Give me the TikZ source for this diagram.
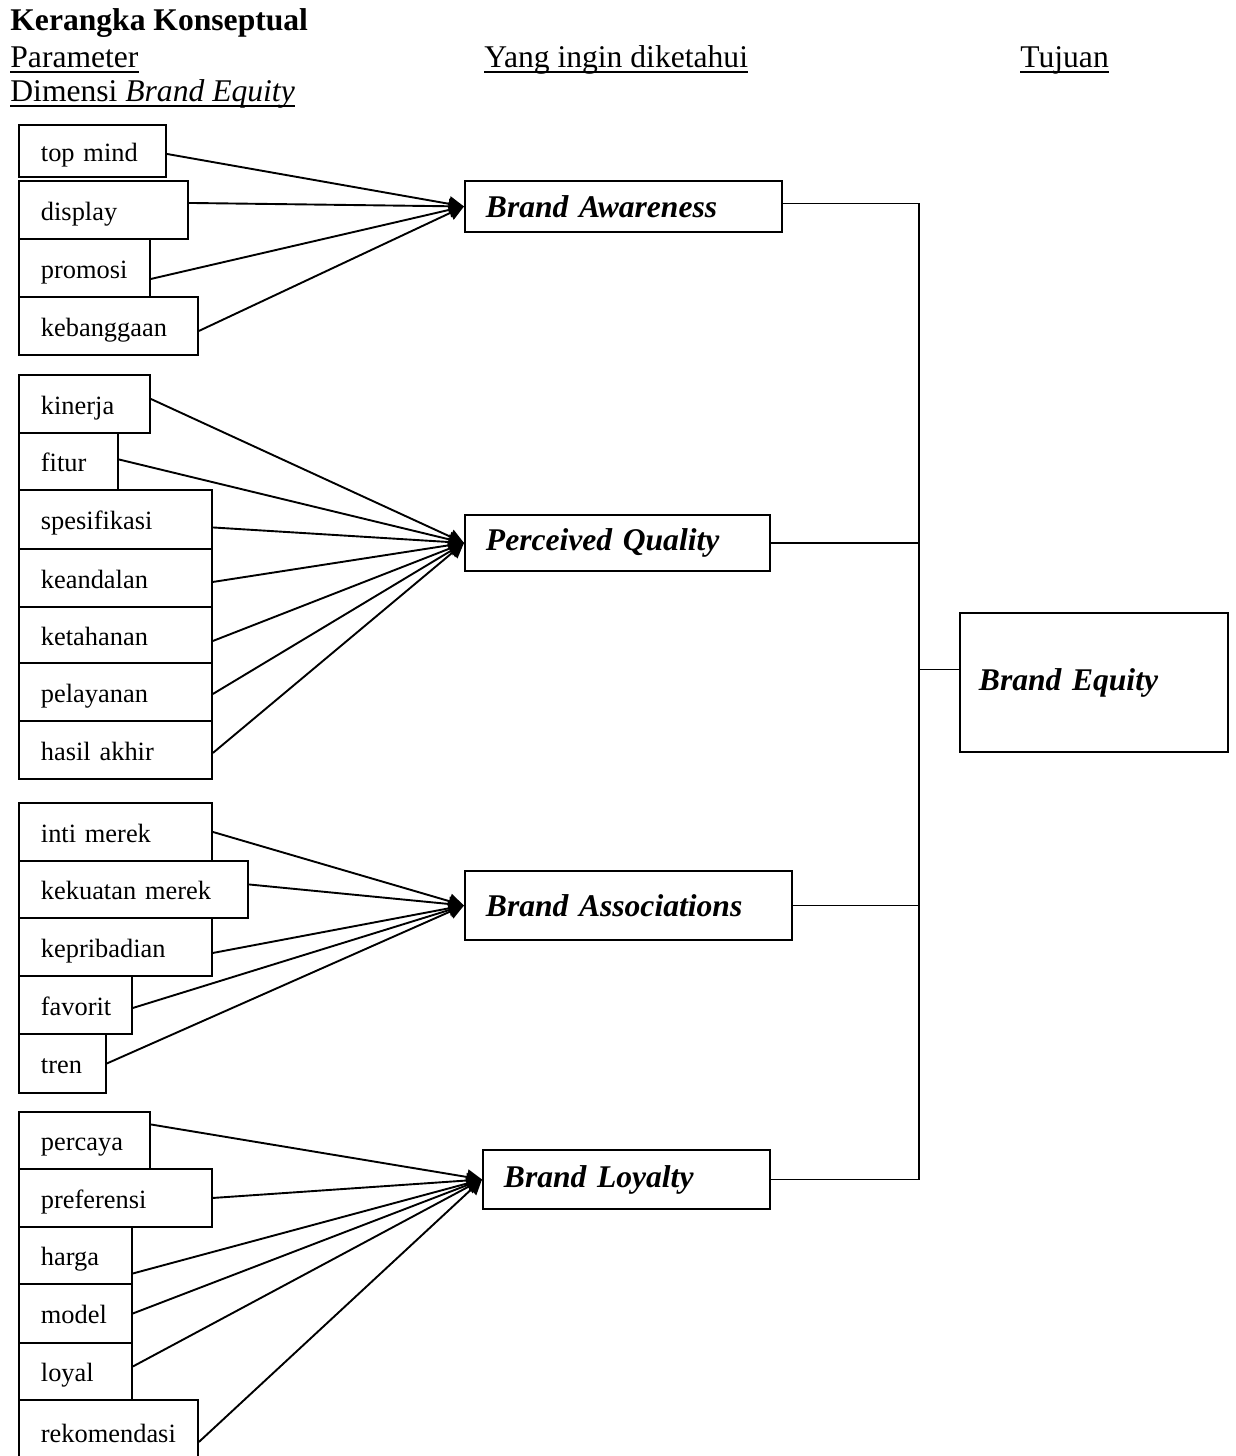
\documentclass[tikz,border=0pt]{standalone}
\usepackage{fontspec}
\setmainfont{Liberation Serif}
\usetikzlibrary{arrows.meta,calc}
% one indicator box in the left column: name, top, text width, height, label
\newcommand\leafbox[5]{\node[leaf, text width=#3pt, minimum height=#4pt] (#1) at (18,#2) {\mbox{#5}};}
\begin{document}
\begin{tikzpicture}[x=0.5pt,y=-0.5pt,
  leaf/.style={draw, line width=0.95pt, anchor=north west, inner xsep=11pt, inner ysep=0pt,
    text height=10.5pt, text depth=0pt,
    align=left, font=\fontsize{13.2}{15}\selectfont},
  dim/.style={draw, line width=0.95pt, anchor=north west, inner xsep=10.5pt, inner ysep=0pt,
    align=left, font=\fontsize{15.8}{19}\selectfont\bfseries\itshape},
  head/.style={inner sep=0pt, anchor=base west, font=\fontsize{15.8}{19}\selectfont},
  ul/.style={line width=0.95pt},
  feed/.style={line width=0.95pt, -{Triangle[length=7.5pt,width=7.5pt]}},
  tie/.style={line width=0.95pt}]
\useasboundingbox (0,0) rectangle (1236,1456);
\clip (0,0) rectangle (1236,1456);

% headings
\node[head, font=\fontsize{15.8}{19}\selectfont\bfseries] (title) at (10,30) {Kerangka Konseptual};
\node[head] (hpar) at (10,67) {Parameter};
\node[head] (hdim) at (10,101) {Dimensi \textit{Brand Equity}};
\node[head] (hyang) at (484,67) {Yang ingin diketahui\ };
\node[head] (htuj) at (1020,67) {Tujuan};
\foreach \h in {hpar,hdim,hyang,htuj}
  \draw[ul] ($(\h.base west)+(0,5)$) -- ($(\h.base east)+(0,5)$);

% brand equity dimensions
\node[dim, text width=137.5pt, minimum height=25.5pt] (aw) at (464,180) {Brand Awareness};
\node[dim, text width=131.5pt, minimum height=28pt] (pq) at (464,514) {Perceived Quality};
\node[dim, text width=142.5pt, minimum height=34.5pt] (ba) at (464,870) {Brand Associations};
\node[dim, text width=122.5pt, minimum height=29.5pt] (bl) at (482,1149) {Brand Loyalty};
\node[dim, inner xsep=9.5pt, text width=115pt, minimum height=69.5pt] (be) at (959,612) {Brand Equity};

% indicators: awareness
\leafbox{tm}{124}{51.5}{26}{top mind}
\leafbox{dp}{180}{62.5}{29}{display}
\leafbox{pr}{238}{43.5}{29}{promosi}
\leafbox{kb}{296}{67.5}{29}{kebanggaan}
% indicators: perceived quality
\leafbox{kn}{374}{43.5}{29}{kinerja}
\leafbox{ft}{432}{27.5}{28.5}{fitur}
\leafbox{sp}{489}{74.5}{29.5}{spesifikasi}
\leafbox{ke}{548}{74.5}{29}{keandalan}
\leafbox{kt}{606}{74.5}{28}{ketahanan}
\leafbox{pl}{662}{74.5}{29}{pelayanan}
\leafbox{ha}{720}{74.5}{29}{hasil akhir}
% indicators: associations
\leafbox{im}{802}{74.5}{29}{inti merek}
\leafbox{km}{860}{92.5}{28.5}{kekuatan merek}
\leafbox{kp}{917}{74.5}{29}{kepribadian}
\leafbox{fv}{975}{34.5}{29}{favorit}
\leafbox{tr}{1033}{21.5}{29.5}{tren}
% indicators: loyalty
\leafbox{pc}{1111}{43.5}{28.5}{percaya}
\leafbox{pf}{1168}{74.5}{29}{preferensi}
\leafbox{hg}{1226}{34.5}{28.5}{harga}
\leafbox{md}{1283}{34.5}{29.5}{model}
\leafbox{ly}{1342}{34.5}{28.5}{loyal}
\leafbox{rk}{1399}{67.5}{32}{rekomendasi}

% arrows into each dimension
\foreach \n/\d in {tm/3, dp/-7, pr/11, kb/5}
  \draw[feed] ($(\n.east)+(0,\d)$) -- (aw.west);
\foreach \n/\d in {kn/-5, ft/-2, sp/8, ke/4, kt/6, pl/2, ha/3}
  \draw[feed] ($(\n.east)+(0,\d)$) -- (pq.west);
\foreach \n/\d in {im/0, km/-5, kp/6, fv/3, tr/0}
  \draw[feed] ($(\n.east)+(0,\d)$) -- (ba.west);
\foreach \n/\d in {pc/-16, pf/0, hg/18, md/0, ly/-5, rk/10}
  \draw[feed] ($(\n.east)+(0,\d)$) -- (bl.west);

% bracket joining the dimensions to brand equity
\coordinate (spine) at (919,0);
\coordinate (awout) at ($(aw.east)+(0,-3)$);
\coordinate (bein) at ($(be.west)+(0,-13)$);
\draw[tie] (awout) -- (awout -| spine) -- (bl.east -| spine) -- (bl.east);
\draw[tie] (pq.east) -- (pq.east -| spine);
\draw[tie] (ba.east) -- (ba.east -| spine);
\draw[tie] (bein) -- (bein -| spine);
\end{tikzpicture}
\end{document}
